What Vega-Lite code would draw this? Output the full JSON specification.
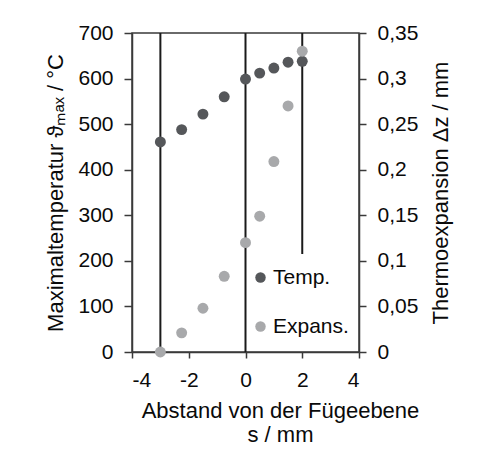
{
  "$schema": "https://vega.github.io/schema/vega-lite/v6.json",
  "width": 227,
  "height": 319,
  "autosize": {"type": "none"},
  "padding": {"left": 132, "top": 33, "right": 127, "bottom": 116},
  "background": "white",
  "config": {
    "view": {"stroke": "#3a3a3a", "strokeWidth": 1.5},
    "font": "Liberation Sans",
    "axis": {
      "grid": false,
      "domainColor": "#3a3a3a",
      "domainWidth": 1.5,
      "tickColor": "#3a3a3a",
      "tickWidth": 1.5,
      "labelFont": "Liberation Sans",
      "labelFontSize": 21,
      "labelColor": "#0a0a0a",
      "titleFont": "Liberation Sans",
      "titleFontSize": 22,
      "titleFontWeight": "normal",
      "titleColor": "#0a0a0a"
    }
  },
  "datasets": {
    "rules": [
      {"s": -3, "lo": 0, "hi": 700},
      {"s": 0, "lo": 0, "hi": 700},
      {"s": 2, "lo": 215, "hi": 700}
    ],
    "main": [
      {"s": -3, "temp": 461, "exp": 0},
      {"s": -2.25, "temp": 488, "exp": 0.021},
      {"s": -1.5, "temp": 522, "exp": 0.048},
      {"s": -0.75, "temp": 560, "exp": 0.083},
      {"s": 0, "temp": 599, "exp": 0.12},
      {"s": 0.5, "temp": 612, "exp": 0.149},
      {"s": 1, "temp": 623, "exp": 0.209},
      {"s": 1.5, "temp": 636, "exp": 0.27},
      {"s": 2, "temp": 638, "exp": 0.33}
    ]
  },
  "layer": [
    {
      "data": {"name": "rules"},
      "mark": {"type": "rule", "color": "#1a1a1a", "strokeWidth": 2},
      "encoding": {
        "x": {
          "field": "s", "type": "quantitative",
          "scale": {"domain": [-4, 4], "nice": false},
          "axis": {
            "values": [-4, -2, 0, 2, 4],
            "labelExpr": "datum.value < 0 ? '-' + abs(datum.value) : '' + datum.value",
            "tickSize": 6,
            "labelPadding": 11,
            "title": ["Abstand von der Fügeebene", "s / mm"],
            "titleX": 148,
            "titleY": 65,
            "titleAlign": "center",
            "titleBaseline": "alphabetic",
            "titleLineHeight": 24
          }
        },
        "y": {"field": "lo", "type": "quantitative", "scale": {"domain": [0, 700], "nice": false}, "axis": null},
        "y2": {"field": "hi"}
      }
    },
    {
      "data": {"name": "main"},
      "mark": {"type": "circle", "size": 120, "opacity": 1},
      "encoding": {
        "x": {"field": "s", "type": "quantitative", "scale": {"domain": [-4, 4], "nice": false}},
        "y": {
          "field": "temp", "type": "quantitative",
          "scale": {"domain": [0, 700], "nice": false},
          "axis": {
            "orient": "left",
            "values": [0, 100, 200, 300, 400, 500, 600, 700],
            "tickSize": 8,
            "labelPadding": 11,
            "title": "Maximaltemperatur ϑₘₐₓ / °C",
            "titlePadding": 10
          }
        },
        "color": {
          "datum": "Temp.", "type": "nominal",
          "scale": {"domain": ["Temp.", "Expans."], "range": ["#55575a", "#a8a9ab"]},
          "legend": {
            "orient": "none",
            "legendX": 118,
            "legendY": 234,
            "title": null,
            "labelFont": "Liberation Sans",
            "labelFontSize": 21,
            "labelColor": "#0a0a0a",
            "symbolType": "circle",
            "symbolSize": 110,
            "symbolStrokeWidth": 0,
            "labelOffset": 2,
            "rowPadding": 27,
            "padding": 0
          }
        }
      }
    },
    {
      "data": {"name": "main"},
      "mark": {"type": "circle", "size": 120, "opacity": 1},
      "encoding": {
        "x": {"field": "s", "type": "quantitative", "scale": {"domain": [-4, 4], "nice": false}},
        "y": {
          "field": "exp", "type": "quantitative",
          "scale": {"domain": [0, 0.35], "nice": false},
          "axis": {
            "orient": "right",
            "values": [0, 0.05, 0.1, 0.15, 0.2, 0.25, 0.3, 0.35],
            "labelExpr": "replace(format(datum.value, '~g'), '.', ',')",
            "tickSize": 7,
            "labelPadding": 11,
            "title": "Thermoexpansion Δz / mm",
            "titleAngle": 270,
            "titleBaseline": "top",
            "titlePadding": 13
          }
        },
        "color": {"datum": "Expans.", "type": "nominal"}
      }
    }
  ],
  "resolve": {"scale": {"y": "independent"}}
}
